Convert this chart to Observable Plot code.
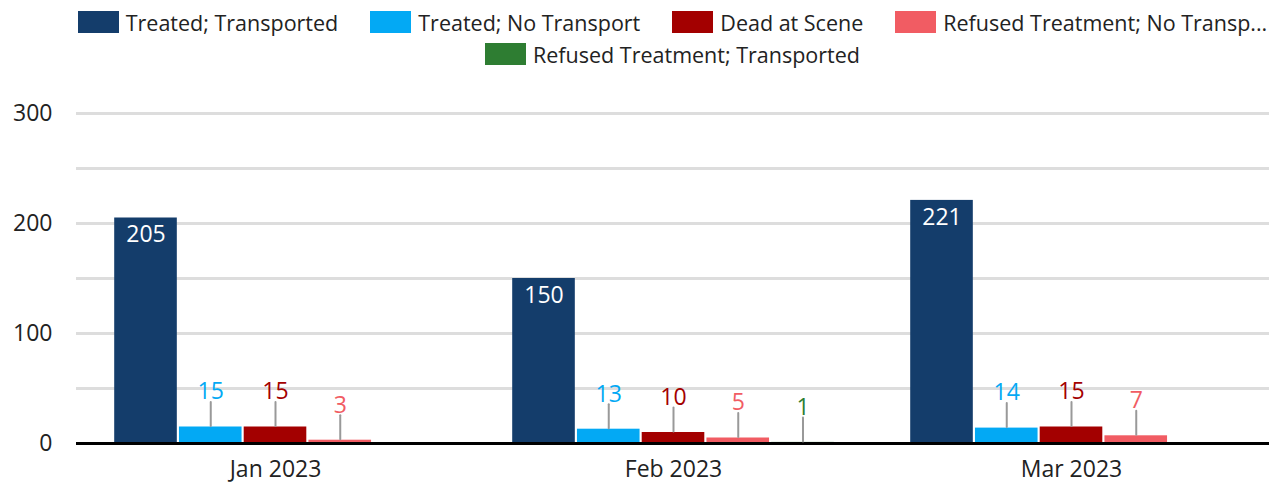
<!DOCTYPE html>
<html><head><meta charset="utf-8">
<script src="https://cdn.jsdelivr.net/npm/d3@7"></script>
<script src="https://cdn.jsdelivr.net/npm/@observablehq/plot@0.6"></script>
<style>
body{margin:0;background:#fff;font-family:"Open Sans",sans-serif;color:#222;}
#legend{width:1269px;height:74px;box-sizing:border-box;padding-left:76px;padding-top:6px;overflow:hidden;}
.row{display:flex;justify-content:center;align-items:center;height:32px;gap:32px;white-space:nowrap;}
.item{display:flex;align-items:center;font-size:21.5px;}
.sw{width:41px;height:22px;margin-right:7px;flex:none;}
</style></head><body>
<div id="legend"></div>
<div id="chart"></div>
<script>
const months = ["Jan 2023", "Feb 2023", "Mar 2023"];
const seriesNames = ["Treated; Transported", "Treated; No Transport", "Dead at Scene", "Refused Treatment; No Transport", "Refused Treatment; Transported"];
const legendLabels = ["Treated; Transported", "Treated; No Transport", "Dead at Scene", "Refused Treatment; No Transp...", "Refused Treatment; Transported"];
const colors = ["#143d6b", "#03a9f4", "#a30000", "#f15c63", "#2e7d32"];
const treatedTransported = [205, 150, 221];
const treatedNoTransport = [15, 13, 14];
const deadAtScene = [15, 10, 15];
const refusedNoTransport = [3, 5, 7];
const refusedTransported = [null, 1, null];
const yTicks = [0, 100, 200, 300];
const gridTicks = [50, 100, 150, 200, 250, 300];

const valuesBySeries = [treatedTransported, treatedNoTransport, deadAtScene, refusedNoTransport, refusedTransported];
const rows = months.flatMap((m, i) => seriesNames.map((s, j) => ({month: m, series: s, value: valuesBySeries[j][i]})))
  .filter(d => d.value != null);

// legend
const legend = document.getElementById("legend");
const rowsSpec = [[0,1,2,3],[4]];
rowsSpec.forEach(idx => {
  const r = document.createElement("div"); r.className = "row";
  idx.forEach(i => {
    const it = document.createElement("div"); it.className = "item";
    const sw = document.createElement("span"); sw.className = "sw"; sw.style.background = colors[i];
    const t = document.createElement("span"); t.textContent = legendLabels[i];
    it.append(sw, t); r.append(it);
  });
  legend.append(r);
});

const leader = {draw(ctx, l) { ctx.moveTo(0, 0); ctx.lineTo(0, -l); }};

const chart = Plot.plot({
  width: 1269, height: 409,
  marginTop: 39, marginBottom: 40, marginLeft: 76, marginRight: -1,
  style: {fontFamily: "Open Sans", fontSize: "23px", color: "#222", background: "#fff", overflow: "visible"},
  fx: {domain: months, padding: 0, round: true, label: null, tickSize: 0, tickPadding: 17, axis: "bottom"},
  x: {domain: seriesNames, axis: null, round: false, paddingInner: 0.033, paddingOuter: 0.59},
  y: {domain: [0, 300], ticks: yTicks, tickSize: 0, tickPadding: 24, label: null},
  color: {domain: seriesNames, range: colors},
  marks: [
    Plot.ruleY(gridTicks, {stroke: "#dddddd", strokeWidth: 3}),
    Plot.barY(rows, {fx: "month", x: "series", y: "value", fill: "series"}),
    Plot.ruleY([0], {stroke: "#000", strokeWidth: 3}),
    Plot.text(rows.filter(d => d.value >= 100), {fx: "month", x: "series", y: "value", text: d => String(d.value), fill: "#fff", dy: 17}),
    Plot.vector(rows.filter(d => d.value < 100), {fx: "month", x: "series", y: "value", length: 24, rotate: 0, anchor: "start", shape: leader, stroke: "#999", strokeWidth: 2, dy: -1}),
    Plot.text(rows.filter(d => d.value < 100), {fx: "month", x: "series", y: "value", text: d => String(d.value), fill: "series", dy: -35})
  ]
});
document.getElementById("chart").append(chart);
</script>
</body></html>
